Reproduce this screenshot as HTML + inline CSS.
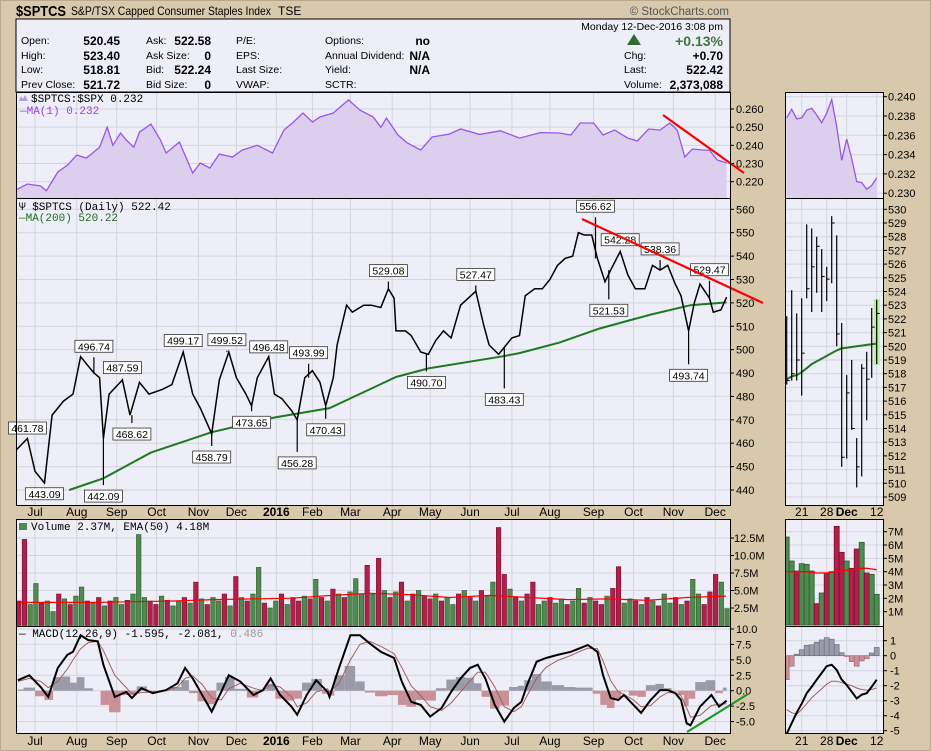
<!DOCTYPE html>
<html><head><meta charset="utf-8"><title>$SPTCS chart</title>
<style>
html,body{margin:0;padding:0;background:#d8c9ad;}
svg{display:block;font-family:"Liberation Sans",sans-serif;}
.mono{font-family:"Liberation Mono",monospace;font-size:11px;}
.ax{font-size:11px;fill:#000;}
.ql{font-size:10.5px;fill:#000;}
.qv{font-size:12px;font-weight:bold;fill:#000;}
</style></head>
<body>
<svg id="chart" width="931" height="751" viewBox="0 0 931 751">
<defs>
<clipPath id="cR"><rect x="16" y="92" width="714" height="106"/></clipPath>
<clipPath id="cP"><rect x="16" y="198" width="714" height="307"/></clipPath>
<clipPath id="cV"><rect x="16" y="519" width="714" height="107"/></clipPath>
<clipPath id="cM"><rect x="16" y="626" width="714" height="107"/></clipPath>
<clipPath id="cSR"><rect x="785" y="92" width="98" height="106"/></clipPath>
<clipPath id="cSP"><rect x="785" y="198" width="98" height="307"/></clipPath>
<clipPath id="cSV"><rect x="785" y="519" width="98" height="107"/></clipPath>
<clipPath id="cSM"><rect x="785" y="626" width="98" height="107"/></clipPath>
</defs>
<rect x="0" y="0" width="931" height="751" fill="#d8c9ad"/>
<rect x="0.5" y="0.5" width="930" height="750" fill="none" stroke="#b8a98e"/>
<text x="16" y="16" font-size="15" font-weight="bold" textLength="50" lengthAdjust="spacingAndGlyphs">$SPTCS</text>
<text x="71" y="15" font-size="12" textLength="200" lengthAdjust="spacingAndGlyphs">S&amp;P/TSX Capped Consumer Staples Index</text>
<text x="278" y="15" font-size="12">TSE</text>
<text x="729" y="15" font-size="11.5" fill="#555" text-anchor="end">© StockCharts.com</text>

<g>
<rect x="16" y="19" width="714" height="73" fill="#eeeef8" stroke="#000"/>
<text class="ql" x="21" y="44">Open:</text><text class="qv" x="120" y="45" text-anchor="end">520.45</text>
<text class="ql" x="21" y="59">High:</text><text class="qv" x="120" y="60" text-anchor="end">523.40</text>
<text class="ql" x="21" y="73">Low:</text><text class="qv" x="120" y="74" text-anchor="end">518.81</text>
<text class="ql" x="21" y="88">Prev Close:</text><text class="qv" x="120" y="89" text-anchor="end">521.72</text>
<text class="ql" x="146" y="44">Ask:</text><text class="qv" x="211" y="45" text-anchor="end">522.58</text>
<text class="ql" x="146" y="59">Ask Size:</text><text class="qv" x="211" y="60" text-anchor="end">0</text>
<text class="ql" x="146" y="73">Bid:</text><text class="qv" x="211" y="74" text-anchor="end">522.24</text>
<text class="ql" x="146" y="88">Bid Size:</text><text class="qv" x="211" y="89" text-anchor="end">0</text>
<text class="ql" x="236" y="44">P/E:</text>
<text class="ql" x="236" y="59">EPS:</text>
<text class="ql" x="236" y="73">Last Size:</text>
<text class="ql" x="236" y="88">VWAP:</text>
<text class="ql" x="325" y="44">Options:</text><text class="qv" x="430" y="45" text-anchor="end">no</text>
<text class="ql" x="325" y="59">Annual Dividend:</text><text class="qv" x="430" y="60" text-anchor="end">N/A</text>
<text class="ql" x="325" y="73">Yield:</text><text class="qv" x="430" y="74" text-anchor="end">N/A</text>
<text class="ql" x="325" y="88">SCTR:</text>
<text class="ql" x="723" y="30" text-anchor="end">Monday  12-Dec-2016  3:08 pm</text>
<polygon points="627,45 634,34 641,45" fill="#2f6b2f"/>
<text x="723" y="46" font-size="14" font-weight="bold" fill="#3b7a3b" text-anchor="end">+0.13%</text>
<text class="ql" x="624" y="59">Chg:</text><text class="qv" x="723" y="60" text-anchor="end">+0.70</text>
<text class="ql" x="624" y="73">Last:</text><text class="qv" x="723" y="74" text-anchor="end">522.42</text>
<text class="ql" x="624" y="88">Volume:</text><text class="qv" x="723" y="89" text-anchor="end">2,373,088</text>
</g>
<g id="layer"></g>
</svg>
<script>
// ===== main price data =====
const priceDays = [0,6,10,15,19,25,30,34,41,44,46,49,56,60,65,70,77,82,88,93,97,103,107,112,116,121,124,127,133,136,140,145,148,152,156,160,163,167,169,174,177,183,187,192,196,199,200,205,208,213,217,221,225,229,234,238,242,246,249,254,257,261,265,268,273,277,281,285,289,293,296,299,303,306,310,313,318,322,326,331,335,339,343,347,350,354,357,360,365,367,371,374];
const priceClose = [457,462,448,443,472,478,481,497,490,488,462,481,487,472,486,481,483,485,499,481,475,464,487,499,488,481,476,488,497,481,479,474,470,488,491,486,476,488,502,519,516,519,519,518,526,522,508,508,506,499,498,504,508,505,519,522,525,511,502,498,501,505,506,523,526,526,530,536,539,540,550,549,549,539,529,534,542,532,526,526,536,534,536,528,523,508,520,528,522,516,517,522.4];
const maDays = [28,46,71,103,136,165,200,217,255,265,286,307,334,355,374];
const maValues = [440,445,456,464.7,471,475,488.3,492,497,498.5,503,509,515,519,520.2];
const annDays = [6,15,41,46,56,61,88,103,111,124,133,148,154,163,196,216,242,257,305,312,318,339,354,365];
const annValues = [461.78,443.09,496.74,442.09,487.59,468.62,499.17,458.79,499.52,473.65,496.48,456.28,493.99,470.43,529.08,490.70,527.47,483.43,556.62,521.53,542.28,538.36,493.74,529.47];
const annHigh = [1,0,1,0,1,0,1,0,1,0,1,0,1,0,1,0,1,0,1,0,1,1,0,1];
const priceTicks = [440,450,460,470,480,490,500,510,520,530,540,550,560];
// ===== ratio =====
const ratioDays = [0,6,13,16,22,27,32,37,44,48,51,55,58,62,65,71,76,79,86,93,97,102,107,114,119,127,135,141,146,151,156,160,167,175,181,188,192,195,201,206,213,219,228,234,244,255,265,276,286,292,297,304,309,315,322,327,333,339,344,348,352,356,362,365,369,374];
const ratioValues = [0.2155,0.2187,0.2176,0.215,0.2253,0.229,0.2347,0.233,0.239,0.250,0.240,0.2468,0.243,0.239,0.2473,0.2517,0.243,0.2358,0.2418,0.2248,0.2303,0.2275,0.2352,0.2336,0.2374,0.240,0.2358,0.2484,0.2528,0.2578,0.2528,0.2556,0.2578,0.265,0.2594,0.2556,0.250,0.255,0.2457,0.2413,0.2374,0.2446,0.2462,0.249,0.246,0.248,0.244,0.247,0.2468,0.2457,0.2523,0.2523,0.2457,0.2484,0.244,0.2424,0.249,0.2484,0.2523,0.2484,0.2336,0.238,0.2374,0.2374,0.232,0.2303];
const ratioTicks = [0.220,0.230,0.240,0.250,0.260];
// ===== volume =====
const volValues = [3.5,12.3,3.0,6.0,3.2,3.5,2.0,4.5,3.8,3.0, 4.2,5.5,3.5,3.2,4.0,2.8,3.5,4.0,3.0,3.6, 4.5,13.0,4.0,3.5,3.0,4.2,3.6,2.8,3.5,4.0, 3.2,6.2,3.8,3.0,4.0,3.5,4.5,2.8,7.0,4.0, 3.5,4.5,8.3,3.2,2.5,3.5,4.5,3.0,4.0,3.5, 4.2,3.8,6.6,4.0,3.5,5.2,4.5,4.0,4.8,6.7, 4.5,8.6,4.5,9.6,5.0,4.0,4.8,6.2,3.5,4.5, 5.0,4.2,3.8,4.5,3.5,4.0,3.0,4.5,5.0,4.0, 3.5,5.0,4.2,6.2,14.0,7.3,5.2,4.0,3.5,4.5, 6.2,3.0,3.5,4.0,3.2,3.8,3.0,3.5,5.3,3.2, 4.0,3.5,3.0,4.2,5.3,8.4,3.2,3.8,3.5,3.0, 4.0,3.5,2.8,4.5,3.2,4.0,3.0,3.5,6.6,4.5, 3.0,4.8,7.3,6.2,2.4];
const volUp = [0,0,1,1,0,1,1,0,1,0, 1,1,0,1,0,1,0,1,1,0, 1,1,1,0,0,1,0,1,1,0, 1,0,1,0,1,1,0,1,0,1, 0,1,1,0,1,1,0,1,0,0, 1,0,1,0,1,0,1,0,1,1, 1,0,1,0,1,0,1,0,1,0, 1,0,0,1,0,1,1,0,1,0, 1,0,1,1,0,0,1,0,1,0, 0,1,1,0,1,1,0,1,1,0, 1,0,0,1,0,0,1,1,0,1, 0,1,0,1,1,0,1,0,1,1, 0,0,0,1,1];
const volEma = [3.3,3.3,3.3,3.4,3.5,3.7,3.8,3.9,4.3,4.6,4.4,4.0,4.3,4.0,3.7,3.8,3.6,4.0,4.2];
const volTicks = [2.5,5.0,7.5,10.0,12.5];
// ===== MACD =====
const macdDays = [1,7,13,17,22,27,30,34,38,43,46,52,58,61,66,72,79,85,89,93,98,103,108,112,118,125,130,134,139,145,148,153,158,164,165,170,176,181,186,192,199,203,208,213,218,224,229,234,239,243,247,252,257,262,266,269,274,279,285,292,297,301,306,309,313,317,320,325,329,334,339,343,347,350,353,355,360,366,370,374];
const macdLine = [1.7,2.5,0.6,-1,3.7,5.8,6.3,9,8.2,8,4.2,-1,-0.2,-1.2,0.4,-0.4,0.1,1.2,3.7,2,-0.7,-3.4,-0.2,2.5,1.5,-0.7,0.1,2,-0.7,-2.6,-3.9,-0.7,1.7,-0.2,-1,3.7,9,9,7.7,6.3,5.3,1.5,-1.8,-2.3,-4.2,-2.8,-0.2,2,3.7,4.2,2,-2.3,-5,-2.8,-1.8,0.9,4.7,5.3,5.8,6.3,6.9,7.4,6.3,2.5,-1.2,-1.5,-0.7,-2.3,-3.6,-1.5,0.1,0.1,-0.4,-1.5,-5.3,-5.6,-2.6,-0.7,-2.6,-1.6];
const macdSignal = [1.5,2.0,1.5,0.5,1.5,3.5,5.0,6.8,7.8,8.0,6.5,2.5,0.5,-0.5,-0.3,-0.2,0,0.6,2.0,2.4,1.0,-1.2,-1.5,0.3,1.2,0.4,0.0,0.9,0.6,-1.0,-2.6,-2.0,-0.2,0.3,-0.2,1.2,5.0,7.5,8.0,7.2,6.0,3.8,0.8,-0.8,-2.6,-3.2,-2.0,-0.2,1.6,3.0,3.0,0.6,-2.6,-3.4,-2.6,-0.8,2.0,3.8,4.9,5.7,6.4,6.9,6.8,4.8,1.6,-0.2,-0.6,-1.5,-2.6,-2.4,-1.0,-0.3,-0.3,-0.8,-2.8,-4.3,-4.0,-2.4,-2.2,-2.1];
const macdTicks = [-5.0,-2.5,0.0,2.5,5.0,7.5,10.0];
// ===== axis months =====
const monthDays = [10,32,53,74,96,116,137,156,176,198,218,239,261,281,304,325,346,368];
const monthLabels = ["Jul","Aug","Sep","Oct","Nov","Dec","2016","Feb","Mar","Apr","May","Jun","Jul","Aug","Sep","Oct","Nov","Dec"];
// ===== small (recent) panel data =====
const sHigh = [522.2,524.1,522.4,523.5,528.9,528.6,528.0,527.1,525.8,529.5,528.1,521.7,517.9,519.0,513.3,518.7,519.6,522.8,523.4];
const sLow = [517.2,517.5,517.5,516.4,523.5,522.5,523.9,522.5,523.3,524.6,520.0,511.2,511.8,513.9,509.7,510.5,514.6,517.7,518.7];
const sClose = [517.5,518.0,519.0,519.5,524.2,525.8,527.3,525.1,524.9,529.0,520.9,511.9,516.6,514.0,511.2,518.4,517.6,521.4,522.4];
const sMA = [517.6,517.8,517.9,518.1,518.4,518.7,518.9,519.1,519.3,519.5,519.7,519.85,519.9,519.95,520.0,520.05,520.1,520.15,520.2];
const sRatio = [0.2378,0.2387,0.2377,0.2378,0.2386,0.2388,0.2381,0.2373,0.2383,0.2397,0.2369,0.2334,0.2356,0.2336,0.2312,0.2311,0.2304,0.2308,0.2316];
const sVol = [6.6,4.8,4.05,4.6,4.55,4.05,1.6,2.4,3.9,4.0,7.4,5.45,4.8,4.25,5.7,6.2,3.9,3.8,2.3];
const sVolUp = [1,1,0,1,1,1,0,1,0,1,0,0,1,0,0,1,0,1,1];
const sVolEma = [4.0,4.0,4.0,4.0,4.0,3.95,3.9,3.9,3.9,3.95,4.05,4.1,4.1,4.15,4.2,4.25,4.25,4.2,4.15];
const sMacd = [-5.2,-4.5,-3.8,-3.2,-2.5,-2.07,-1.6,-1.15,-0.7,-0.6,-0.95,-1.6,-1.95,-2.4,-2.85,-2.6,-2.5,-2.07,-1.6];
const sSignal = [-3.6,-3.8,-3.9,-3.6,-3.2,-2.8,-2.5,-2.2,-1.9,-1.7,-1.7,-1.8,-1.9,-2.0,-2.15,-2.25,-2.3,-2.25,-2.15];
const sPriceTicks = [509,510,511,512,513,514,515,516,517,518,519,520,521,522,523,524,525,526,527,528,529,530];
const sRatioTicks = [0.230,0.232,0.234,0.236,0.238,0.240];
const sVolTicks = [1,2,3,4,5,6,7];
const sMacdTicks = [-5,-4,-3,-2,-1,0,1];
const sDateIdx = [3,8,12,18];
const sDateLabels = ["21","28","Dec","12"];

const NS = 'http://www.w3.org/2000/svg';
const layer = document.getElementById('layer');
function mk(tag, attrs, parent) {
  const e = document.createElementNS(NS, tag);
  for (const k in attrs) e.setAttribute(k, attrs[k]);
  (parent || layer).appendChild(e);
  return e;
}
const xD = d => 16 + d * 1.9;
const yP = v => 209.3 + (560 - v) * 2.339;
const yR = v => 109 + (0.260 - v) * 1817;
const yV = v => 625.5 - v * 7;
const yM = v => 690.7 - v * 6.17;
const xS = i => 786.7 + i * 5;
const yPS = v => 209.3 + (530 - v) * 13.7;
const yRS = v => 96.7 + (0.240 - v) * 9650;
const yVS = v => 625 - v * 13.33;
const yMS = v => 655.7 - v * 15;

function panel(x, y, w, h, name) {
  const r = mk('rect', {x: x, y: y, width: w, height: h, fill: '#eeeef8', stroke: 'none'});
  
  
  return r;
}
function border(x, y, w, h) {
  const r = mk('rect', {x: x + 0.5, y: y + 0.5, width: w, height: h, fill: 'none', stroke: '#000', 'stroke-width': 1});
  
  
}
function hgrid(ticks, ys, x0, x1, labelX, fmt) {
  ticks.forEach(t => {
    const y = ys(t);
    const g = mk('line', {x1: x0, x2: x1, y1: y, y2: y, stroke: '#d4d4dc', 'stroke-width': 1});
    
    
    const tk = mk('line', {x1: x1, x2: x1 + 4, y1: y, y2: y, stroke: '#000'});
    
    
    const tx = mk('text', {x: labelX, y: y + 4, class: 'ax'});
    tx.textContent = fmt(t);
    
    
  });
}
function vgrid(y0, y1) {
  monthDays.forEach(d => {
    const x = xD(d);
    const g = mk('line', {x1: x, x2: x, y1: y0, y2: y1, stroke: '#d4d4dc'});
    
    
  });
}
function svgrid(y0, y1) {
  sDateIdx.forEach(i => {
    const g = mk('line', {x1: xS(i), x2: xS(i), y1: y0, y2: y1, stroke: '#d4d4dc'});
    
    
  });
}
function pts(days, vals, xs, ys) { return days.map((d, i) => xs(d).toFixed(1) + ',' + ys(vals[i]).toFixed(1)).join(' '); }
const idx = n => Array.from({length: n}, (_, i) => i);

panel(16, 92, 714, 106, 'ratio-panel');
panel(16, 198, 714, 307, 'price-panel');
panel(16, 519, 714, 107, 'volume-panel');
panel(16, 626, 714, 107, 'macd-panel');
panel(785, 92, 98, 106, 'ratio-zoom-panel');
panel(785, 198, 98, 307, 'price-zoom-panel');
panel(785, 519, 98, 107, 'volume-zoom-panel');
panel(785, 626, 98, 107, 'macd-zoom-panel');

vgrid(92, 505); vgrid(519, 733);
svgrid(92, 505); svgrid(519, 733);
hgrid(ratioTicks, yR, 16, 730, 736, t => t.toFixed(3));
hgrid(priceTicks, yP, 16, 730, 736, t => String(t));
hgrid(volTicks, yV, 16, 730, 734, t => t.toFixed(1) + 'M');
hgrid(macdTicks, yM, 16, 730, 736, t => t.toFixed(1));
hgrid(sRatioTicks, yRS, 785, 883, 888, t => t.toFixed(3));
hgrid(sPriceTicks, yPS, 785, 883, 888, t => String(t));
hgrid(sVolTicks, yVS, 785, 883, 888, t => t + 'M');
hgrid(sMacdTicks, yMS, 785, 883, 890, t => String(t));

// ratio
const rg = mk('g', {'clip-path': 'url(#cR)'});


const rp = pts(ratioDays, ratioValues, xD, yR);
const rArea = mk('polygon', {points: xD(ratioDays[0]) + ',198 ' + rp + ' ' + xD(ratioDays[ratioDays.length - 1]) + ',198', fill: '#dccfee'}, rg);


const rLine = mk('polyline', {points: rp, fill: 'none', stroke: '#9b55e6', 'stroke-width': 1.3}, rg);


const rTrend = mk('line', {x1: 663, y1: 115, x2: 744, y2: 173, stroke: '#f00', 'stroke-width': 2.2});



// price
const pg = mk('g', {'clip-path': 'url(#cP)'});


const maLine = mk('polyline', {points: pts(maDays, maValues, xD, yP), fill: 'none', stroke: '#1e7a1e', 'stroke-width': 2}, pg);


const pLine = mk('polyline', {points: pts(priceDays, priceClose, xD, yP), fill: 'none', stroke: '#000', 'stroke-width': 1.5}, pg);


annDays.forEach((d, i) => {
  const x = xD(d);
  let k = 0; priceDays.forEach((pd, j) => { if (Math.abs(pd - d) < Math.abs(priceDays[k] - d)) k = j; });
  const sp = mk('line', {x1: x, x2: x, y1: yP(priceClose[k]), y2: yP(annValues[i]), stroke: '#000', 'stroke-width': 1.2}, pg);
  
  
  const y = yP(annValues[i]);
  const by = annHigh[i] ? y - 17 : y + 5;
  const w = 38;
  const box = mk('rect', {x: x - w / 2, y: by, width: w, height: 12, fill: '#fff', stroke: '#333', 'stroke-width': 0.8});
  
  
  const t = mk('text', {x: x, y: by + 10, 'font-size': 10.5, 'text-anchor': 'middle'});
  t.textContent = annValues[i].toFixed(2);
  
  
});
const pTrend = mk('line', {x1: 582, y1: 219, x2: 763, y2: 303, stroke: '#f00', 'stroke-width': 2.2});



// volume
const vg = mk('g', {'clip-path': 'url(#cV)'});


const vw = 714 / volValues.length;
volValues.forEach((v, i) => {
  const b = mk('rect', {x: 16 + i * vw + 0.5, y: yV(v), width: vw - 1.2, height: 625.5 - yV(v), fill: volUp[i] ? '#4f8a4f' : '#b0204a', stroke: volUp[i] ? '#2d5a2d' : '#7a0f30', 'stroke-width': 0.6}, vg);
  
  
});
const emaL = mk('polyline', {points: volEma.map((v, i) => (16 + i * 710 / (volEma.length - 1)).toFixed(1) + ',' + yV(v).toFixed(1)).join(' '), fill: 'none', stroke: '#f00', 'stroke-width': 1.2}, vg);



// MACD
const mg = mk('g', {'clip-path': 'url(#cM)'});


macdDays.forEach((d, i) => {
  const h = macdLine[i] - macdSignal[i];
  const l = i === 0 ? d : (d + macdDays[i - 1]) / 2;
  const r = i === macdDays.length - 1 ? d : (d + macdDays[i + 1]) / 2;
  const y0 = yM(0), y1 = yM(h);
  const b = mk('rect', {x: xD(l), y: Math.min(y0, y1), width: Math.max(1, xD(r) - xD(l)), height: Math.abs(y1 - y0), fill: h >= 0 ? '#9a9aa8' : '#c9909a'}, mg);
  
  
});
const sigL = mk('polyline', {points: pts(macdDays, macdSignal, xD, yM), fill: 'none', stroke: '#a06060', 'stroke-width': 1}, mg);


const macL = mk('polyline', {points: pts(macdDays, macdLine, xD, yM), fill: 'none', stroke: '#000', 'stroke-width': 2}, mg);


const mTrend = mk('line', {x1: 687, y1: 732, x2: 748, y2: 694, stroke: '#1a9a1a', 'stroke-width': 2.2});



// small panels
const sIdx = idx(sClose.length);
const srg = mk('g', {'clip-path': 'url(#cSR)'});


const srp = pts(sIdx, sRatio, xS, yRS);
const srA = mk('polygon', {points: xS(0) + ',198 ' + srp + ' ' + xS(sIdx.length - 1) + ',198', fill: '#dccfee'}, srg);


const srL = mk('polyline', {points: srp, fill: 'none', stroke: '#9b55e6', 'stroke-width': 1.3}, srg);



const spg = mk('g', {'clip-path': 'url(#cSP)'});


const last = sIdx.length - 1;
const hl = mk('rect', {x: xS(last) - 3, y: yPS(sHigh[last]) - 1, width: 6, height: yPS(sLow[last]) - yPS(sHigh[last]) + 2, fill: '#b8f0a0'}, spg);


const smaL = mk('polyline', {points: pts(sIdx, sMA, xS, yPS), fill: 'none', stroke: '#1e7a1e', 'stroke-width': 2}, spg);


sIdx.forEach(i => {
  const b = mk('line', {x1: xS(i), x2: xS(i), y1: yPS(sHigh[i]), y2: yPS(sLow[i]), stroke: '#000', 'stroke-width': 1.2}, spg);
  
  
  const c = mk('line', {x1: xS(i), x2: xS(i) + 3, y1: yPS(sClose[i]), y2: yPS(sClose[i]), stroke: '#000', 'stroke-width': 1}, spg);
  
  
});

const svg2 = mk('g', {'clip-path': 'url(#cSV)'});


sVol.forEach((v, i) => {
  const b = mk('rect', {x: xS(i) - 2.5, y: yVS(v), width: 5, height: 625 - yVS(v), fill: sVolUp[i] ? '#4f8a4f' : '#b0204a', stroke: sVolUp[i] ? '#2d5a2d' : '#7a0f30', 'stroke-width': 0.8}, svg2);
  
  
});
const sEma = mk('polyline', {points: pts(sIdx, sVolEma, xS, yVS), fill: 'none', stroke: '#f00', 'stroke-width': 1.3}, svg2);



const smg = mk('g', {'clip-path': 'url(#cSM)'});


sIdx.forEach(i => {
  const h = sMacd[i] - sSignal[i];
  const y0 = yMS(0), y1 = yMS(h);
  const b = mk('rect', {x: xS(i) - 2.5, y: Math.min(y0, y1), width: 5, height: Math.abs(y1 - y0), fill: h >= 0 ? '#9a9aa8' : '#c9909a', stroke: h >= 0 ? '#6a6a78' : '#a06070', 'stroke-width': 0.6}, smg);
  
  
});
const ssig = mk('polyline', {points: pts(sIdx, sSignal, xS, yMS), fill: 'none', stroke: '#a06060', 'stroke-width': 1}, smg);


const smac = mk('polyline', {points: pts(sIdx, sMacd, xS, yMS), fill: 'none', stroke: '#000', 'stroke-width': 2}, smg);



border(16, 92, 714, 106); border(16, 198, 714, 307); border(16, 519, 714, 107); border(16, 626, 714, 107);
border(785, 92, 98, 106); border(785, 198, 98, 307); border(785, 519, 98, 107); border(785, 626, 98, 107);

[516, 745].forEach(y => {
  monthDays.forEach((d, i) => {
    const t = mk('text', {x: xD(d), y: y, 'font-size': 12, 'text-anchor': 'middle', 'font-weight': monthLabels[i] === '2016' ? 'bold' : 'normal'});
    t.textContent = monthLabels[i];
    
    
  });
  sDateIdx.forEach((k, i) => {
    const t = mk('text', {x: xS(k), y: y, 'font-size': 12, 'text-anchor': 'middle', 'font-weight': sDateLabels[i] === 'Dec' ? 'bold' : 'normal'});
    t.textContent = sDateLabels[i];
    
    
  });
});

function legend(x, y, txt, color, name) {
  const t = mk('text', {x: x, y: y, class: 'mono', fill: color});
  t.textContent = txt;
  
  
}
const ic1 = mk('polygon', {points: '19,101 21,96 23,99 25,95 28,101', fill: '#b89ae0'});


legend(31, 102, '$SPTCS:$SPX 0.232', '#000', 'ratio-legend');
legend(20, 114, '\u2014MA(1) 0.232', '#9b3ee6', 'ma1-legend');
legend(19, 210, '\u03A8 $SPTCS (Daily) 522.42', '#000', 'price-legend');
legend(19, 221, '\u2014MA(200) 520.22', '#1e6e1e', 'ma200-legend');
const ic2 = mk('rect', {x: 19, y: 523, width: 8, height: 7, fill: '#4f8a4f'});


legend(31, 530, 'Volume 2.37M, EMA(50) 4.18M', '#000', 'volume-legend');
const t5 = mk('text', {x: 19, y: 637, class: 'mono'});
t5.innerHTML = '<tspan>\u2014 MACD(12,26,9) -1.595, -2.081,</tspan><tspan fill="#999"> 0.486</tspan>';


</script>
</body></html>
